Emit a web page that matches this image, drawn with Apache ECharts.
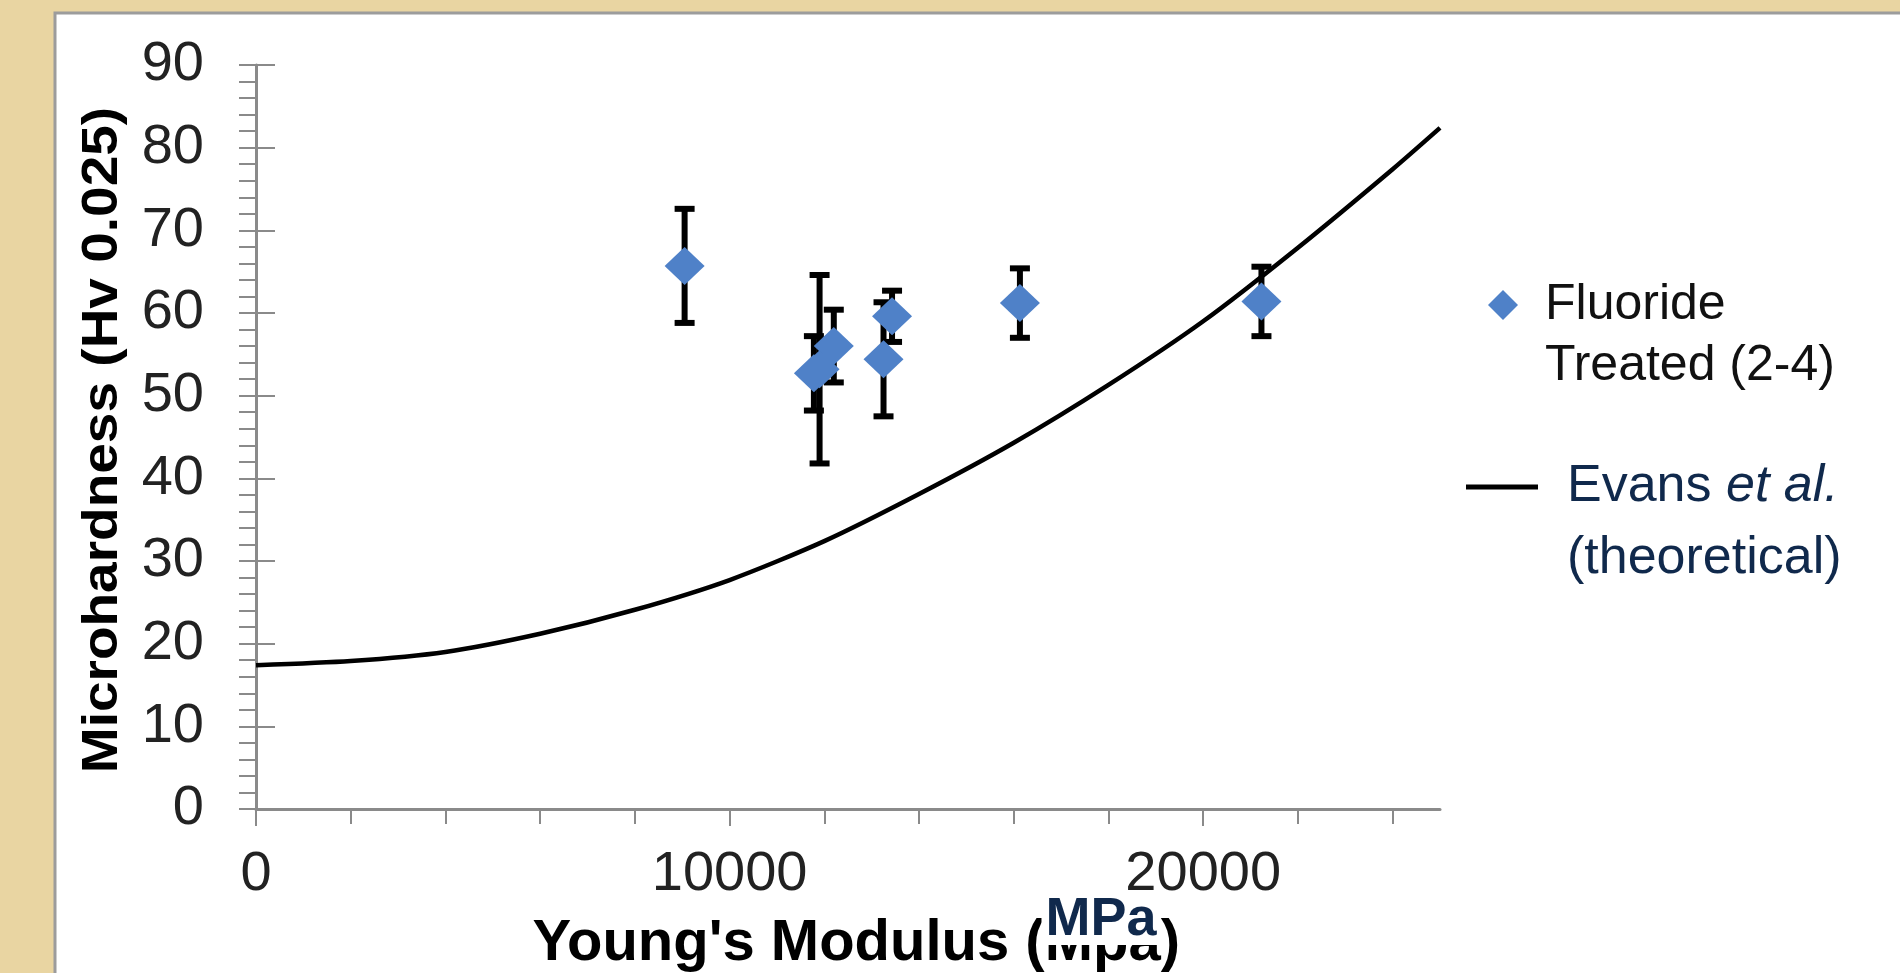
<!DOCTYPE html>
<html><head><meta charset="utf-8">
<script src="https://cdn.jsdelivr.net/npm/echarts@6/dist/echarts.min.js"></script>
<style>html,body{margin:0;padding:0;background:#e9d5a2;}#c{width:1900px;height:973px;}</style>
</head><body><div id="c"></div>
<script>
// Evans et al. theoretical curve
const curveX = [0, 2000, 4000, 6000, 8000, 10000, 12000, 14000, 16000, 18000, 20000, 22000, 24000, 25000];
const curveY = [17.4, 17.9, 19.0, 21.2, 24.1, 27.7, 32.4, 38.1, 44.3, 51.3, 59.0, 67.9, 77.4, 82.4];
// Fluoride treated measurements
const pointX = [9050, 11780, 11900, 12200, 13250, 13430, 16130, 21230];
const pointY = [65.7, 52.7, 53.2, 56.0, 54.4, 59.6, 61.2, 61.4];
const pointErr = [6.9, 4.5, 11.4, 4.4, 6.9, 3.1, 4.2, 4.2];
// ticks
const xLabelValues = [0, 10000, 20000];
const xTickValues = [0, 2000, 4000, 6000, 8000, 10000, 12000, 14000, 16000, 18000, 20000, 22000, 24000];
const yLabelValues = [0, 10, 20, 30, 40, 50, 60, 70, 80, 90];
const yTickValues = [0, 2, 4, 6, 8, 10, 12, 14, 16, 18, 20, 22, 24, 26, 28, 30, 32, 34, 36, 38, 40, 42, 44, 46, 48, 50, 52, 54, 56, 58, 60, 62, 64, 66, 68, 70, 72, 74, 76, 78, 80, 82, 84, 86, 88, 90];
const scatterName = 'Fluoride Treated (2-4)';
const lineName = 'Evans et al. (theoretical)';

const FONT = "'Liberation Sans', Arial, sans-serif";
const NAVY = '#10294c';
const AXIS = '#8a8a8a';

const chart = echarts.init(document.getElementById('c'));
const curveData = curveX.map((x, i) => [x, curveY[i]]);
const pointData = pointX.map((x, i) => [x, pointY[i]]);
const errData = pointX.map((x, i) => [x, pointY[i] - pointErr[i], pointY[i] + pointErr[i]]);

const xBase = {type: 'value', min: 0, max: 25000, interval: 10000, splitLine: {show: false}};
const yBase = {type: 'value', min: 0, max: 90, interval: 10, splitLine: {show: false}};

function txt(id, x, y, text, o) {
  const st = {text: text, fontSize: o.size, fontWeight: o.weight || 'normal', fontStyle: o.style || 'normal',
      fontFamily: FONT, fill: o.color || '#000',
      align: o.align || 'center', verticalAlign: 'middle', textAlign: o.align || 'center', textVerticalAlign: 'middle'};
  if (o.bg) { st.backgroundColor = o.bg; st.padding = o.padding; st.lineHeight = o.lineHeight; }
  return {type: 'text', id: id, x: x, y: y, silent: true, rotation: o.rotation || 0,
    scaleX: o.scaleX || 1, scaleY: o.scaleY || 1, z: o.z || 50, style: st};
}

chart.setOption({
  backgroundColor: '#e9d5a2',
  animation: false,
  grid: {left: 256, right: 460, top: 65, bottom: 164, containLabel: false},
  xAxis: [
    Object.assign({}, xBase, {
      axisLine: {show: true, lineStyle: {color: AXIS, width: 3}},
      axisTick: {show: true, inside: false, length: 15, customValues: xTickValues, lineStyle: {color: AXIS, width: 2}},
      axisLabel: {show: true, customValues: xLabelValues, formatter: v => String(v), margin: 38,
                  fontSize: 56, fontFamily: FONT, color: '#222'}
    }),
    Object.assign({}, xBase, {
      axisLine: {show: false},
      axisTick: {show: true, inside: true, length: 17, customValues: xLabelValues, lineStyle: {color: AXIS, width: 2}},
      axisLabel: {show: false}
    })
  ],
  yAxis: [
    Object.assign({}, yBase, {
      axisLine: {show: true, lineStyle: {color: AXIS, width: 3}},
      axisTick: {show: true, inside: false, length: 17, customValues: yTickValues, lineStyle: {color: AXIS, width: 2}},
      axisLabel: {show: true, customValues: yLabelValues, formatter: v => String(v), margin: 52,
                  fontSize: 56, fontFamily: FONT, color: '#222'}
    }),
    Object.assign({}, yBase, {
      position: 'left',
      axisLine: {show: false},
      axisTick: {show: true, inside: true, length: 19, customValues: yLabelValues, lineStyle: {color: AXIS, width: 2}},
      axisLabel: {show: false}
    })
  ],
  legend: [
    {
      data: [{name: scatterName, icon: 'diamond'}],
      left: 1488, top: 219, itemWidth: 30, itemHeight: 30, padding: 0,
      formatter: () => '{s| }\n{a|Fluoride}\n{a|Treated (2-4)}',
      textStyle: {rich: {
        s: {fontSize: 50, lineHeight: 61, fontFamily: FONT, padding: [0, 0, 0, 22]},
        a: {fontSize: 50, lineHeight: 61, fontFamily: FONT, color: '#111', padding: [0, 0, 0, 22]}
      }}
    },
    {
      data: [{name: lineName, icon: 'rect'}],
      left: 1466, top: 389, itemWidth: 72, itemHeight: 5, padding: 0,
      formatter: () => '{s| }\n{b|Evans }{bi|et al.}\n{b|(theoretical)}',
      textStyle: {rich: {
        s: {fontSize: 52, lineHeight: 72, fontFamily: FONT, padding: [0, 0, 0, 24]},
        b: {fontSize: 52, lineHeight: 72, fontFamily: FONT, color: NAVY, padding: [0, 0, 0, 24]},
        bi: {fontSize: 52, lineHeight: 72, fontFamily: FONT, color: NAVY, fontStyle: 'italic'}
      }}
    }
  ],
  graphic: [
    {type: 'rect', id: 'panel', z: -100, silent: true, shape: {x: 55, y: 13, width: 1900, height: 1000},
     style: {fill: '#ffffff', stroke: '#9c9c9c', lineWidth: 3}},
    txt('ytitle', 103, 440, 'Microhardness (Hv 0.025)', {size: 50, weight: 'bold', rotation: Math.PI / 2, scaleX: 1.1}),
    txt('xtitle', 1180, 944, "Young's Modulus (Mpa)", {size: 58, weight: 'bold', align: 'right'}),
    txt('xunit', 1101, 920, 'MPa', {size: 54, weight: 'bold', color: NAVY, bg: '#ffffff', padding: [0, 4, 0, 4], lineHeight: 50, z: 60})
  ],
  series: [
    {
      name: lineName, type: 'line', data: curveData, smooth: 0.25, showSymbol: false, symbol: 'none',
      color: '#000', lineStyle: {color: '#000', width: 4.5}, itemStyle: {color: '#000'}, z: 1
    },
    {
      name: 'err', type: 'custom', data: errData, encode: {x: 0, y: [1, 2]}, z: 2,
      renderItem: (params, api) => {
        const x = api.value(0);
        const top = api.coord([x, api.value(2)]);
        const bot = api.coord([x, api.value(1)]);
        const cap = 10;
        const st = {stroke: '#000', lineWidth: 6};
        return {type: 'group', children: [
          {type: 'line', shape: {x1: top[0], y1: top[1], x2: bot[0], y2: bot[1]}, style: st},
          {type: 'line', shape: {x1: top[0] - cap, y1: top[1], x2: top[0] + cap, y2: top[1]}, style: st},
          {type: 'line', shape: {x1: bot[0] - cap, y1: bot[1], x2: bot[0] + cap, y2: bot[1]}, style: st}
        ]};
      }
    },
    {
      name: scatterName, type: 'scatter', data: pointData, symbol: 'diamond', symbolSize: [40, 38],
      itemStyle: {color: '#4f81c8', opacity: 1}, z: 3
    }
  ]
});
</script></body></html>
